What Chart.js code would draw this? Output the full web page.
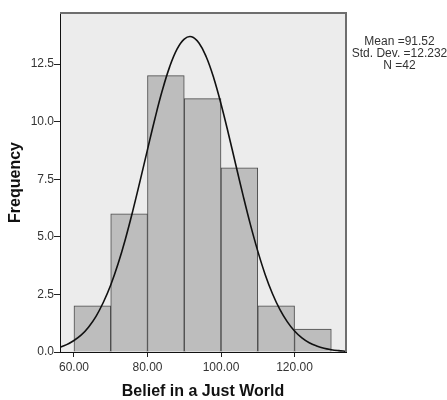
<!DOCTYPE html>
<html>
<head>
<meta charset="utf-8">
<script src="https://cdn.jsdelivr.net/npm/chart.js@4/dist/chart.umd.min.js"></script>
<style>
  html, body { margin: 0; padding: 0; background: #ffffff; }
  #wrap { width: 447px; height: 400px; position: relative; }
</style>
</head>
<body>
<div id="wrap"><canvas id="c" width="447" height="400"></canvas></div>
<script>
// Histogram bins (centres) and frequencies
const binCenters = [65, 75, 85, 95, 105, 115, 125];
const frequencies = [2, 6, 12, 11, 8, 2, 1];

// Normal curve values
const curveX = [56, 58, 60, 62, 64, 66, 68, 70, 72, 74, 76, 78, 80, 82, 84, 86, 88, 90, 92, 94, 96, 98, 100, 102, 104, 106, 108, 110, 112, 114, 116, 118, 120, 122, 124, 126, 128, 130, 132, 134];
const curveY = [0.20, 0.32, 0.50, 0.74, 1.09, 1.55, 2.16, 2.91, 3.83, 4.91, 6.13, 7.44, 8.79, 10.12, 11.34, 12.37, 13.14, 13.59, 13.69, 13.42, 12.81, 11.91, 10.77, 9.49, 8.14, 6.80, 5.53, 4.38, 3.37, 2.53, 1.85, 1.32, 0.91, 0.61, 0.40, 0.26, 0.16, 0.10, 0.06, 0.03];

// Tick values
const xTicks = [60, 80, 100, 120];
const yTicks = [0, 2.5, 5, 7.5, 10, 12.5];

// Summary statistics
const statsLines = ["Mean =91.52", "Std. Dev. =12.232", "N =42"];

const FONT = "'Liberation Sans', Arial, sans-serif";

const frame = {
  id: 'frame',
  beforeDraw(chart) {
    const { ctx, chartArea: a } = chart;
    ctx.save();
    ctx.fillStyle = '#ececec';
    ctx.fillRect(a.left, a.top, a.right - a.left, a.bottom - a.top);
    ctx.restore();
  },
  afterDraw(chart) {
    const { ctx, chartArea: a } = chart;
    ctx.save();
    ctx.strokeStyle = '#6e6e6e';
    ctx.lineWidth = 2;
    ctx.beginPath();
    ctx.moveTo(a.left, a.top);
    ctx.lineTo(a.right, a.top);
    ctx.lineTo(a.right, a.bottom);
    ctx.stroke();
    // stats text
    ctx.fillStyle = '#333333';
    ctx.font = '12px ' + FONT;
    ctx.textAlign = 'center';
    ctx.textBaseline = 'middle';
    statsLines.forEach((t, i) => ctx.fillText(t, 399.5, 42 + i * 12));
    ctx.restore();
  }
};

new Chart(document.getElementById('c'), {
  type: 'bar',
  data: {
    datasets: [
      {
        type: 'line',
        data: curveX.map((x, i) => ({ x: x, y: curveY[i] })),
        borderColor: '#111111',
        borderWidth: 1.6,
        pointRadius: 0,
        tension: 0.4,
        fill: false,
        order: 0
      },
      {
        type: 'bar',
        data: binCenters.map((x, i) => ({ x: x, y: frequencies[i] })),
        backgroundColor: '#bdbdbd',
        borderColor: '#4a4a4a',
        borderWidth: 1,
        barPercentage: 1,
        categoryPercentage: 1,
        order: 1
      }
    ]
  },
  options: {
    responsive: false,
    animation: false,
    layout: { padding: { left: 0, right: 101, top: 13, bottom: 0 } },
    plugins: { legend: { display: false }, tooltip: { enabled: false } },
    scales: {
      x: {
        type: 'linear',
        offset: false,
        min: 56.2,
        max: 134,
        afterFit(s) { s.height = 48; },
        afterBuildTicks(s) { s.ticks = xTicks.map(v => ({ value: v })); },
        ticks: {
          includeBounds: false,
          stepSize: 20,
          padding: 3,
          maxRotation: 0,
          color: '#333333',
          font: { family: FONT, size: 12 },
          callback: v => Number(v).toFixed(2)
        },
        grid: { display: true, offset: false, drawOnChartArea: false, drawTicks: true, tickLength: 5, color: '#222222' },
        border: { display: true, color: '#111111', width: 1 },
        title: {
          display: true,
          text: 'Belief in a Just World',
          color: '#111111',
          font: { family: FONT, size: 16, weight: 'bold', lineHeight: 1 },
          padding: { top: -1, bottom: 0 }
        }
      },
      y: {
        min: 0,
        max: 14.72,
        afterFit(s) { s.width = 60; },
        afterBuildTicks(s) { s.ticks = yTicks.map(v => ({ value: v })); },
        ticks: {
          includeBounds: false,
          stepSize: 2.5,
          padding: 0,
          color: '#333333',
          font: { family: FONT, size: 12 },
          callback: v => Number(v).toFixed(1)
        },
        grid: { display: true, drawOnChartArea: false, drawTicks: true, tickLength: 6, color: '#222222' },
        border: { display: true, color: '#111111', width: 1 },
        title: {
          display: true,
          text: 'Frequency',
          color: '#111111',
          font: { family: FONT, size: 16, weight: 'bold', lineHeight: 1 },
          padding: { top: 8, bottom: 0 }
        }
      }
    }
  },
  plugins: [frame]
});
</script>
</body>
</html>
